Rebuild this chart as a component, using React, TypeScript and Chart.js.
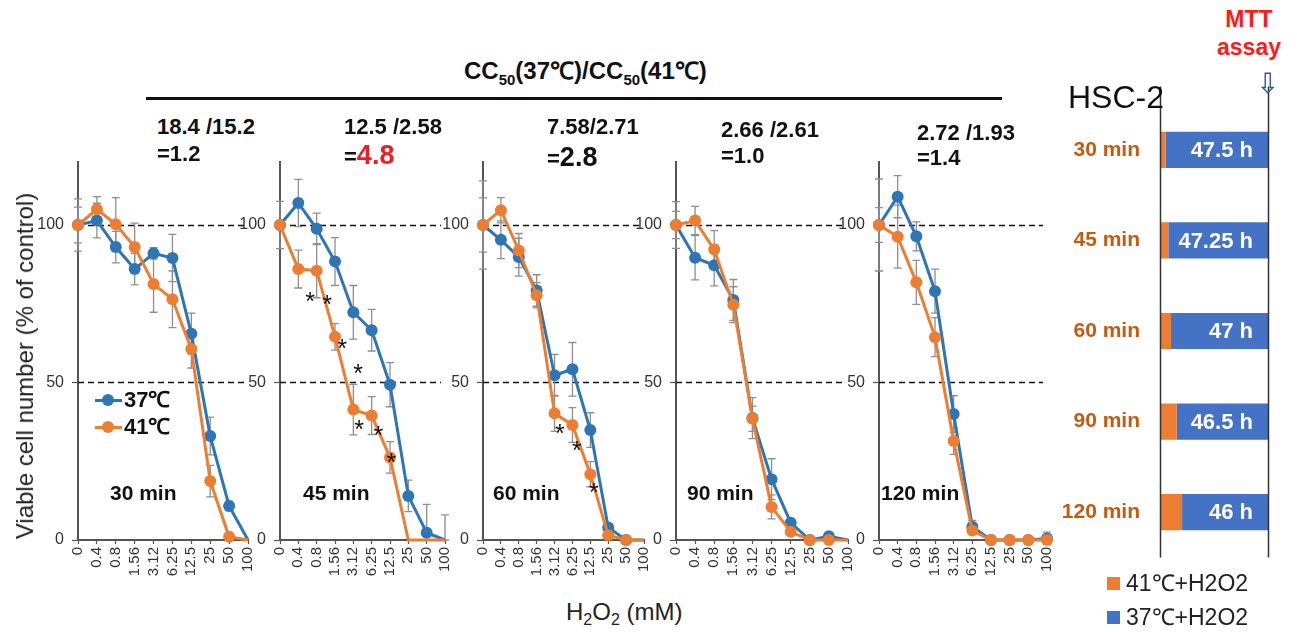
import React, { useEffect, useRef } from 'react';
import { Chart, registerables } from 'chart.js';
Chart.register(...registerables);

// ---------- data ----------
const doseLabels = ['0', '0.4', '0.8', '1.56', '3.12', '6.25', '12.5', '25', '50', '100'];
const exposureTimes = ['30 min', '45 min', '60 min', '90 min', '120 min'];
const yTickValues = [0, 50, 100];
const refLineValues = [50, 100];

const v37_30 = [100, 101.4, 93, 86, 91, 89.5, 65.5, 33, 10.8, 0];
const e37_30 = [8.3, 5.5, 5, 5, 1.8, 7.5, 6.5, 6, 1.5, 0];
const v41_30 = [100, 105, 100.2, 93, 81.3, 76.4, 60.6, 18.7, 1, 0];
const e41_30 = [5.7, 4, 8.5, 7.6, 9, 9, 6, 5, 0, 0];

const v37_45 = [100, 107, 98.8, 88.4, 72.3, 66.6, 49.3, 14, 2.3, 0];
const e37_45 = [7.5, 7.5, 5, 7.6, 8.5, 6.6, 7, 5, 9, 8];
const v41_45 = [100, 86, 85.5, 64.5, 41.4, 39.5, 26.2, 0, 0, 0];
const e41_45 = [0, 6, 8.6, 4.2, 8, 6, 5, 0, 0, 0];

const v37_60 = [100, 95.3, 89.8, 79.2, 52.3, 54.2, 34.9, 4, 0, 0];
const e37_60 = [14, 6, 6, 5, 6.6, 8.5, 5.5, 0, 0, 0];
const v41_60 = [100, 104.7, 91.9, 77.7, 40.2, 36.5, 20.9, 1.5, 0, 0];
const e41_60 = [8.6, 4, 5.4, 4, 5.7, 5.5, 4, 0, 0, 0];

const v37_90 = [100, 89.6, 87.2, 76.2, 38.7, 19.3, 5.5, 0, 1.2, 0];
const e37_90 = [7.4, 7, 6.5, 6.5, 6.5, 6.5, 0, 0, 0, 0];
const v41_90 = [100, 101.4, 92.2, 74.7, 38.5, 10.5, 2.6, 0, 0, 0];
const e41_90 = [4.3, 4.5, 6, 5.7, 4, 3.8, 0, 0, 0, 0];

const v37_120 = [100, 109, 96.4, 79, 40, 4.2, 0, 0, 0, 0.5];
const e37_120 = [14.6, 6.7, 4.6, 7, 5.8, 2, 0, 0, 0, 2];
const v41_120 = [100, 96.3, 81.8, 64.4, 31.4, 3, 0, 0, 0, 0];
const e41_120 = [5.5, 10, 7, 6.2, 4.2, 0, 0, 0, 0, 0];

// significance marks: [dose index, % value]
const sig45 = [[1.64, 77.4], [2.57, 76.4], [3.39, 62.5], [4.26, 54.6], [4.32, 36.9], [5.36, 35], [6.07, 26.2]];
const sig60 = [[4.3, 35.6], [5.25, 30.2], [6.2, 16.8]];

const ccRatioTexts = ['18.4 /15.2', '12.5 /2.58', '7.58/2.71', '2.66 /2.61', '2.72 /1.93'];
const ccRatioValues = ['1.2', '4.8', '2.8', '1.0', '1.4'];

// schedule bar chart (right)
const scheduleCategories = ['30 min', '45 min', '60 min', '90 min', '120 min'];
const heatPhase = [2.5, 3.7, 4.9, 7.4, 9.8];
const normoPhase = [45.5, 44.3, 43.1, 40.6, 38.2];
const normoLabels = ['47.5 h', '47.25 h', '47 h', '46.5 h', '46 h'];

// ---------- styles ----------
const FONT = "'Liberation Sans', Arial, Helvetica, sans-serif";
const BLUE = '#2E75B6';
const ORANGE = '#ED7D31';

const panels = [
  { v37: v37_30, e37: e37_30, v41: v41_30, e41: e41_30, sig: [] as number[][], axisX: 78, rightX: 248, hide37: [9], hide41: [9] },
  { v37: v37_45, e37: e37_45, v41: v41_45, e41: e41_45, sig: sig45, axisX: 280, rightX: 445, hide37: [9], hide41: [7, 8, 9] },
  { v37: v37_60, e37: e37_60, v41: v41_60, e41: e41_60, sig: sig60, axisX: 483, rightX: 644, hide37: [9], hide41: [9] },
  { v37: v37_90, e37: e37_90, v41: v41_90, e41: e41_90, sig: [] as number[][], axisX: 676, rightX: 848, hide37: [9], hide41: [9] },
  { v37: v37_120, e37: e37_120, v41: v41_120, e41: e41_120, sig: [] as number[][], axisX: 879, rightX: 1047, hide37: [], hide41: [] },
];

const Y_LABEL_W = 50;
const CANVAS_TOP = 150;
const CANVAS_H = 440;

function DosePanel({ p }: { p: any }) {
  const ref = useRef<HTMLCanvasElement>(null);
  const width = p.rightX - p.axisX + Y_LABEL_W + 10;
  useEffect(() => {
    const overlay = {
      id: 'overlay',
      beforeDatasetsDraw(chart: any) {
        const { ctx, chartArea, scales } = chart;
        const x = scales.x, y = scales.y;
        ctx.save();
        ctx.setLineDash([6, 4]);
        ctx.strokeStyle = '#111';
        ctx.lineWidth = 1.5;
        refLineValues.forEach((v) => {
          const py = Math.round(y.getPixelForValue(v)) + 0.5;
          ctx.beginPath();
          ctx.moveTo(chartArea.left, py);
          ctx.lineTo(chartArea.right - 4, py);
          ctx.stroke();
        });
        ctx.setLineDash([]);
        ctx.strokeStyle = '#8f8f8f';
        ctx.lineWidth = 1.3;
        const series = [[p.v37, p.e37], [p.v41, p.e41]];
        series.forEach(([vals, errs]: any) => {
          vals.forEach((v: number, i: number) => {
            const e = errs[i];
            if (!e) return;
            const px = x.getPixelForValue(i);
            const t = y.getPixelForValue(v + e);
            const b = y.getPixelForValue(Math.max(0, v - e));
            ctx.beginPath();
            ctx.moveTo(px, t);
            ctx.lineTo(px, b);
            ctx.moveTo(px - 4, t);
            ctx.lineTo(px + 4, t);
            ctx.moveTo(px - 4, b);
            ctx.lineTo(px + 4, b);
            ctx.stroke();
          });
        });
        ctx.restore();
      },
      afterDatasetsDraw(chart: any) {
        const { ctx, scales } = chart;
        ctx.save();
        ctx.fillStyle = '#111';
        ctx.font = `25px ${FONT}`;
        ctx.textAlign = 'center';
        ctx.textBaseline = 'alphabetic';
        p.sig.forEach(([xi, v]: number[]) => {
          ctx.fillText('*', scales.x.getPixelForValue(xi), scales.y.getPixelForValue(v) + 14);
        });
        ctx.restore();
      },
    };
    const radii = (hide: number[]) => doseLabels.map((_, i) => (hide.includes(i) ? 0 : 6));
    const chart = new Chart(ref.current!, {
      type: 'line',
      data: {
        labels: doseLabels,
        datasets: [
          {
            label: '41℃', data: p.v41, order: 0, borderColor: ORANGE, backgroundColor: ORANGE,
            borderWidth: 3, pointRadius: radii(p.hide41), pointBorderWidth: 0, pointHoverRadius: 0, tension: 0, clip: false,
          },
          {
            label: '37℃', data: p.v37, order: 1, borderColor: BLUE, backgroundColor: BLUE,
            borderWidth: 3, pointRadius: radii(p.hide37), pointBorderWidth: 0, pointHoverRadius: 0, tension: 0, clip: false,
          },
        ],
      },
      options: {
        animation: false,
        responsive: false,
        maintainAspectRatio: false,
        events: [],
        layout: { autoPadding: false, padding: { top: 12, right: 10, left: 0, bottom: 0 } },
        plugins: { legend: { display: false }, tooltip: { enabled: false } },
        scales: {
          x: {
            type: 'category',
            offset: false,
            grid: { display: true, drawOnChartArea: false, drawTicks: true, tickLength: 4, tickColor: '#555', tickWidth: 1.2 },
            border: { color: '#555', width: 2 },
            ticks: { minRotation: 90, maxRotation: 90, autoSkip: false, padding: 3, color: '#333', font: { family: FONT, size: 15 } },
            afterFit: (s: any) => {
              s.height = 50;
              s.paddingLeft = 0; s.paddingRight = 0; s.paddingTop = 0; s.paddingBottom = 0;
            },
          },
          y: {
            min: 0,
            max: 120,
            afterBuildTicks: (s: any) => { s.ticks = yTickValues.map((v) => ({ value: v })); },
            grid: { display: true, drawOnChartArea: false, drawTicks: true, tickLength: 6, tickColor: '#555', tickWidth: 1.2 },
            border: { color: '#555', width: 2 },
            ticks: { padding: 8, color: '#333', font: { family: FONT, size: 16 } },
            afterFit: (s: any) => {
              s.width = Y_LABEL_W;
              s.paddingLeft = 0; s.paddingRight = 0; s.paddingTop = 0; s.paddingBottom = 0;
            },
          },
        },
      } as any,
      plugins: [overlay],
    });
    return () => chart.destroy();
  }, []);
  return (
    <canvas
      ref={ref}
      width={width}
      height={CANVAS_H}
      style={{ position: 'absolute', left: p.axisX - Y_LABEL_W, top: CANVAS_TOP, width, height: CANVAS_H }}
    />
  );
}

function ScheduleChart() {
  const ref = useRef<HTMLCanvasElement>(null);
  useEffect(() => {
    const overlay = {
      id: 'scheduleOverlay',
      afterDatasetsDraw(chart: any) {
        const { ctx, chartArea, scales } = chart;
        ctx.save();
        ctx.strokeStyle = '#333';
        ctx.lineWidth = 1.5;
        [0, 48].forEach((v) => {
          const px = Math.round(scales.x.getPixelForValue(v)) + 0.5;
          ctx.beginPath();
          ctx.moveTo(px, chartArea.top - 18);
          ctx.lineTo(px, chartArea.bottom);
          ctx.stroke();
        });
        ctx.fillStyle = '#fff';
        ctx.font = `bold 22px ${FONT}`;
        ctx.textAlign = 'right';
        ctx.textBaseline = 'middle';
        normoLabels.forEach((t, i) => {
          ctx.fillText(t, scales.x.getPixelForValue(48) - 15, scales.y.getPixelForValue(i) + 1);
        });
        ctx.restore();
      },
    };
    const chart = new Chart(ref.current!, {
      type: 'bar',
      data: {
        labels: scheduleCategories,
        datasets: [
          { label: '41℃+H2O2', data: heatPhase, backgroundColor: ORANGE, borderWidth: 0, barPercentage: 0.4, categoryPercentage: 1 },
          { label: '37℃+H2O2', data: normoPhase, backgroundColor: '#4472C4', borderWidth: 0, barPercentage: 0.4, categoryPercentage: 1 },
        ],
      },
      options: {
        indexAxis: 'y',
        animation: false,
        responsive: false,
        maintainAspectRatio: false,
        events: [],
        layout: { padding: { top: 22, right: 29, left: 0, bottom: 0 } },
        plugins: { legend: { display: false }, tooltip: { enabled: false } },
        scales: {
          x: { stacked: true, min: 0, max: 48, display: false },
          y: {
            stacked: true,
            grid: { display: false, drawTicks: false },
            border: { display: false },
            ticks: { color: '#C55A11', padding: 20, font: { family: FONT, size: 21, weight: 'bold' } },
            afterFit: (s: any) => { s.width = 120; },
          },
        },
      } as any,
      plugins: [overlay],
    });
    return () => chart.destroy();
  }, []);
  return (
    <canvas ref={ref} width={257} height={518} style={{ position: 'absolute', left: 1040, top: 72, width: 257, height: 518 }} />
  );
}

const T = ({ x, y, size, bold, color, children, style }: any) => (
  <div
    style={{
      position: 'absolute', left: x, top: y, transform: 'translateY(-50%)', whiteSpace: 'nowrap',
      lineHeight: 1, fontFamily: FONT, fontSize: size, fontWeight: bold ? 'bold' : 'normal', color: color || '#111', ...style,
    }}
  >
    {children}
  </div>
);

const ratioPos = [
  { x: 157, y1: 127, y2: 154 },
  { x: 344, y1: 127, y2: 155 },
  { x: 547, y1: 127, y2: 157 },
  { x: 721, y1: 130, y2: 156 },
  { x: 917, y1: 133, y2: 158 },
];
const timeLabelX = [110, 303, 493, 687, 881];

export default function App() {
  return (
    <div style={{ position: 'absolute', left: 0, top: 0, width: 1297, height: 632, overflow: 'hidden', background: '#fff' }}>
      {panels.map((p, i) => (
        <DosePanel key={i} p={p} />
      ))}
      <ScheduleChart />

      {/* header */}
      <div style={{ position: 'absolute', left: 464, top: 73, transform: 'translateY(-50%)', fontFamily: FONT, fontWeight: 'bold', fontSize: 24, lineHeight: 1, whiteSpace: 'nowrap', color: '#111' }}>
        CC<sub style={{ fontSize: 15 }}>50</sub>(37℃)/CC<sub style={{ fontSize: 15 }}>50</sub>(41℃)
      </div>
      <div style={{ position: 'absolute', left: 146, top: 97, width: 856, height: 3, background: '#111' }} />
      {ratioPos.map((r, i) => (
        <React.Fragment key={i}>
          <T x={r.x} y={r.y1} size={22} bold>{ccRatioTexts[i]}</T>
          <T x={r.x} y={r.y2} size={22} bold>
            ={i === 1 ? <span style={{ color: '#EE1C25', fontSize: 27 }}>{ccRatioValues[i]}</span> : i === 2 ? <span style={{ fontSize: 27 }}>{ccRatioValues[i]}</span> : ccRatioValues[i]}
          </T>
        </React.Fragment>
      ))}

      {/* panel labels */}
      {exposureTimes.map((t, i) => (
        <T key={t} x={timeLabelX[i]} y={492} size={21} bold>{t}</T>
      ))}

      {/* legend panel 1 */}
      {[{ c: BLUE, t: '37℃', y: 400 }, { c: ORANGE, t: '41℃', y: 427 }].map((l) => (
        <React.Fragment key={l.t}>
          <div style={{ position: 'absolute', left: 95, top: l.y - 1.5, width: 27, height: 3, background: l.c }} />
          <div style={{ position: 'absolute', left: 102, top: l.y - 6, width: 12, height: 12, borderRadius: 6, background: l.c }} />
          <T x={124} y={l.y} size={22} bold>{l.t}</T>
        </React.Fragment>
      ))}

      {/* axis titles */}
      <div style={{ position: 'absolute', left: 25, top: 366, transform: 'translate(-50%, -50%) rotate(-90deg)', fontFamily: FONT, fontSize: 24, lineHeight: 1, whiteSpace: 'nowrap', color: '#222' }}>
        Viable cell number (% of control)
      </div>
      <div style={{ position: 'absolute', left: 566, top: 614, transform: 'translateY(-50%)', fontFamily: FONT, fontSize: 24, lineHeight: 1, whiteSpace: 'nowrap', color: '#222' }}>
        H<sub style={{ fontSize: 16 }}>2</sub>O<sub style={{ fontSize: 16 }}>2</sub> (mM)
      </div>

      {/* right panel texts */}
      <T x={1068} y={97} size={32}>HSC-2</T>
      <div style={{ position: 'absolute', left: 1249, top: 5, transform: 'translateX(-50%)', fontFamily: FONT, fontWeight: 'bold', fontSize: 23, lineHeight: '28px', textAlign: 'center', color: '#FF1A1A' }}>
        MTT<br />assay
      </div>
      <T x={1256} y={84} size={28} color="#2F5597" style={{ fontFamily: "'DejaVu Sans', sans-serif" }}>⇩</T>
      {[{ c: ORANGE, t: '41℃+H2O2', y: 583 }, { c: '#4472C4', t: '37℃+H2O2', y: 617 }].map((l) => (
        <React.Fragment key={l.t}>
          <div style={{ position: 'absolute', left: 1107, top: l.y - 6, width: 13, height: 13, background: l.c }} />
          <T x={1126} y={l.y} size={23} color="#222">{l.t}</T>
        </React.Fragment>
      ))}
    </div>
  );
}
